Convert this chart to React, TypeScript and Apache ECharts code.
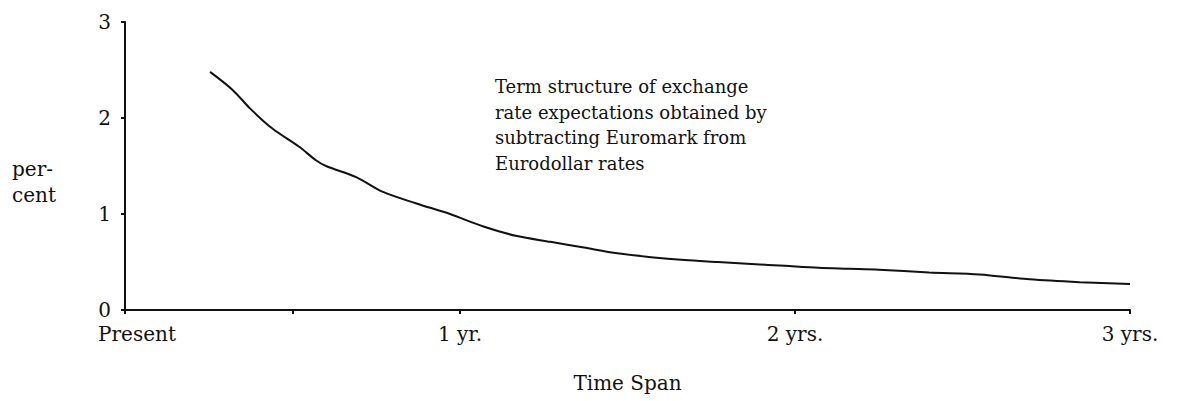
import React, { useEffect, useRef } from "react";
import * as echarts from "echarts";

const timeYears = [0.254, 0.322, 0.373, 0.44, 0.52, 0.57, 0.6, 0.69, 0.77, 0.87, 0.97, 1.07, 1.17, 1.27, 1.37, 1.47, 1.57, 1.67, 1.77, 1.87, 1.97, 2.07, 2.16, 2.25, 2.4, 2.55, 2.7, 2.85, 3.0];
const percentValues = [2.48, 2.29, 2.1, 1.89, 1.7, 1.56, 1.5, 1.385, 1.23, 1.11, 1.0, 0.87, 0.77, 0.71, 0.65, 0.59, 0.55, 0.52, 0.5, 0.48, 0.46, 0.44, 0.43, 0.42, 0.39, 0.37, 0.32, 0.29, 0.27];
const xTickLabels = ["Present", "1 yr.", "2 yrs.", "3 yrs."];
const xLabelValues = [0, 1, 2, 3];
const xTickValues = [0, 0.5, 1, 2, 3];
const yTickValues = [0, 1, 2, 3];
const annotationLines = [
  "Term structure of exchange",
  "rate expectations obtained by",
  "subtracting Euromark from",
  "Eurodollar rates",
];

const FONT = "'DejaVu Serif', 'Liberation Serif', serif";

export default function App() {
  const ref = useRef<HTMLDivElement>(null);
  useEffect(() => {
    if (!ref.current) return;
    const chart = echarts.init(ref.current, null, { renderer: "svg" });
    chart.setOption({
      animation: false,
      backgroundColor: "#ffffff",
      grid: { left: 125, right: 49, top: 22, bottom: 91 },
      xAxis: {
        type: "value",
        min: 0,
        max: 3,
        interval: 0.5,
        name: "Time Span",
        nameLocation: "middle",
        nameGap: 63,
        nameTextStyle: { fontFamily: FONT, fontSize: 20, color: "#111" },
        axisLine: { show: true, lineStyle: { color: "#111", width: 2 } },
        axisTick: { show: true, length: 4, customValues: xTickValues, lineStyle: { color: "#111", width: 2 } },
        splitLine: { show: false },
        axisLabel: {
          customValues: xLabelValues,
          margin: 14,
          fontFamily: FONT,
          fontSize: 20,
          color: "#111",
          formatter: (v: number) => {
            const i = xLabelValues.indexOf(Math.round(v * 100) / 100);
            const t = i >= 0 ? xTickLabels[i] : "";
            return i === 0 ? "{p|" + t + "}" : t;
          },
          rich: {
            p: { fontFamily: FONT, fontSize: 20, color: "#111", padding: [0, 0, 0, 24] },
          },
        },
      },
      yAxis: {
        type: "value",
        min: 0,
        max: 3,
        interval: 1,
        axisLine: { show: true, lineStyle: { color: "#111", width: 2 } },
        axisTick: { show: true, length: 4, customValues: yTickValues, lineStyle: { color: "#111", width: 2 } },
        splitLine: { show: false },
        axisLabel: { customValues: yTickValues, margin: 14, fontFamily: FONT, fontSize: 20, color: "#111" },
      },
      graphic: [
        {
          type: "text",
          left: 12,
          top: 156,
          style: { text: "per-\ncent", fontFamily: FONT, fontSize: 20, lineHeight: 26, fill: "#111" },
        },
        {
          type: "text",
          left: 495,
          top: 74,
          style: { text: annotationLines.join("\n"), fontFamily: FONT, fontSize: 18, lineHeight: 25.5, fill: "#111" },
        },
      ],
      series: [
        {
          type: "line",
          data: timeYears.map((t, i) => [t, percentValues[i]]),
          smooth: 0.3,
          showSymbol: false,
          lineStyle: { color: "#111", width: 2 },
        },
      ],
    });
    return () => chart.dispose();
  }, []);
  return <div ref={ref} style={{ position: "fixed", left: 0, top: 0, width: 1179, height: 401 }} />;
}
